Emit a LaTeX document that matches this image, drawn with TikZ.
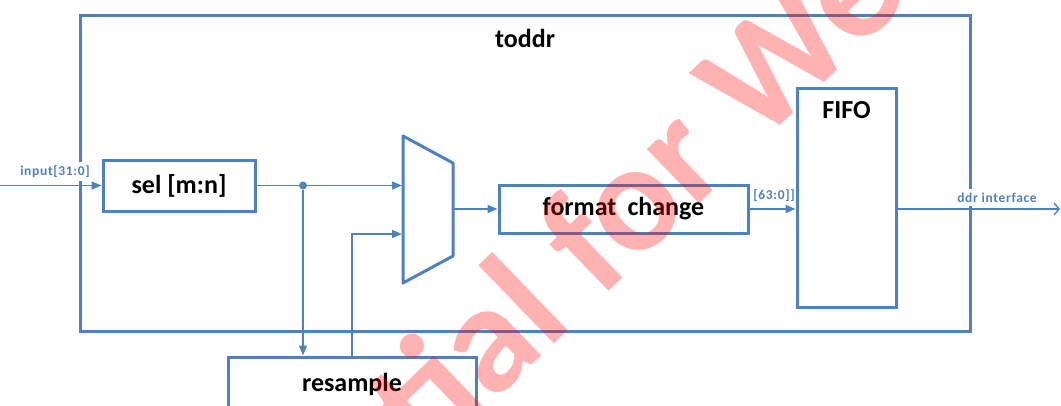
\documentclass[tikz,border=0pt]{standalone}
\usepackage{fontspec}
\setmainfont{Carlito}
\usetikzlibrary{arrows.meta,calc}
\definecolor{ob}{HTML}{4F81BD}
\begin{document}
\begin{tikzpicture}[x=1pt,y=-1pt,
  blk/.style={draw=ob, line width=3pt, font=\bfseries\fontsize{26}{30}\selectfont, inner sep=0pt},
  ttl/.style={font=\bfseries\fontsize{26}{30}\selectfont, inner sep=0pt},
  conn/.style={draw=ob, line width=1.4pt, -{Triangle[length=10pt,width=8pt]}},
  sig/.style={text=ob, font=\bfseries\fontsize{13.5}{15}\selectfont\addfontfeatures{LetterSpace=5}, fill=white, inner xsep=1pt, inner ysep=4pt}]
\useasboundingbox (0,0) rectangle (1061,405);
\clip (0,0) rectangle (1061,405);
% outer block
\node[draw=ob, line width=3pt, minimum width=890pt, minimum height=316pt, inner sep=0pt] (toddr) at (525,173) {};
\node[ttl] (title) at (525,38) {toddr};
% blocks
\node[blk, minimum width=152pt, minimum height=51pt] (sel) at (179,185.5) {sel [m:n]};
\node[blk, minimum width=249pt, minimum height=48pt] (fmt) at (623.5,209) {format\hspace{0.2em} change};
\node[blk, minimum width=99pt, minimum height=219pt] (fifo) at (846.5,197.5) {};
\node[ttl] (fifol) at (846.5,110) {FIFO};
\node[blk, minimum width=248pt, minimum height=54pt] (res) at (352,384) {resample};
% mux
\coordinate (mTL) at (403,136);
\coordinate (mTR) at (453,163);
\coordinate (mBR) at (453,256);
\coordinate (mBL) at (403,283);
\draw[ob, line width=3pt, line join=round] (mTL) -- (mTR) -- (mBR) -- (mBL) -- cycle;
\coordinate (mIn1) at (402,185.5);
\coordinate (mIn2) at (402,234);
\coordinate (mOut) at (453,209);
% connectors
\node[sig] (inlab) at (55,171.5) {input[31:0]};
\coordinate (inS) at (0,185.5);
\draw[conn] (inS) -- (sel.west);
\node[circle, fill=ob, inner sep=0pt, minimum size=8pt] (dot) at (303,185.5) {};
\draw[conn] (sel.east) -- (mIn1);
\draw[conn] (dot) -- (dot |- res.north);
\draw[conn] (res.north) |- (mIn2);
\draw[conn] (mOut) -- (fmt.west);
\draw[conn] (fmt.east) -- (fmt.east -| fifo.west);
\node[sig, fill=none] (wlab) at (774,196) {[63:0]]};
\node[sig] (olab) at (997,197.5) {ddr interface};
\coordinate (outE) at (1060,209);
\draw[draw=ob, line width=1.4pt, -{Straight Barb[length=5pt,width=12pt]}] (fifo.east |- outE) -- (outE);
% watermark
\node[rotate=44, anchor=base west, text=red, opacity=0.3, font=\bfseries\fontsize{155}{155}\selectfont, inner sep=0pt] (wm) at (427,467) {tial for Wes};
\end{tikzpicture}
\end{document}
